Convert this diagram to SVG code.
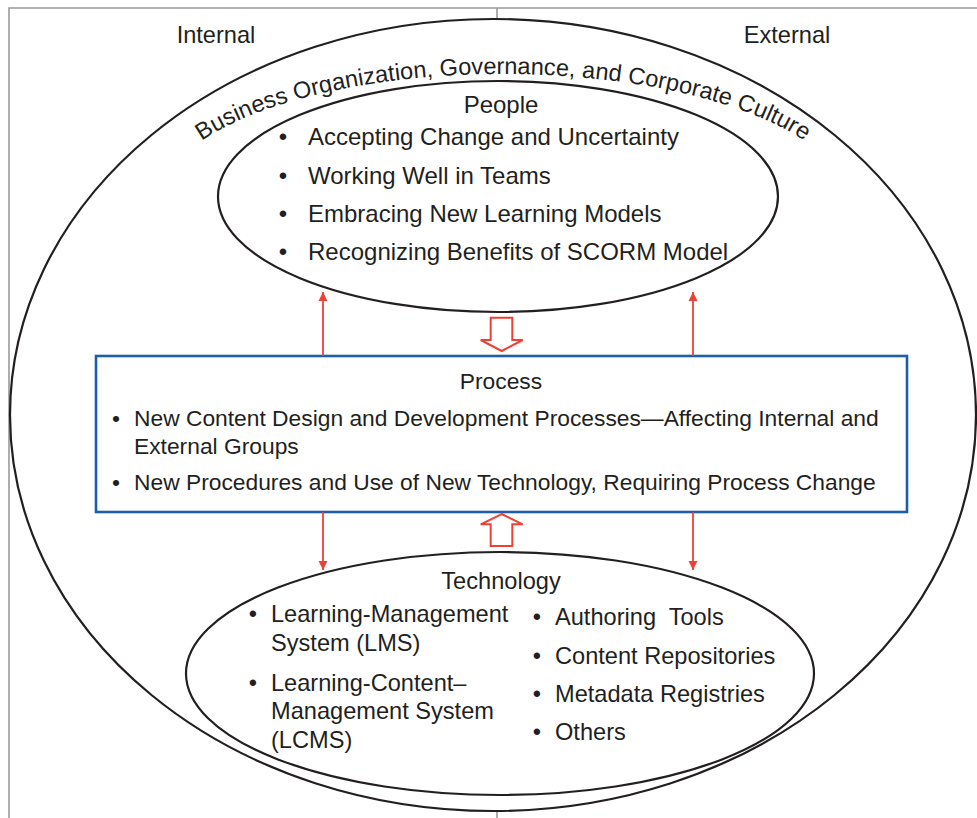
<svg xmlns="http://www.w3.org/2000/svg" width="977" height="818" viewBox="0 0 977 818">
<style>
text{font-family:"Liberation Sans",Arial,Helvetica,sans-serif;fill:#231f20}
.t{font-size:23.6px}
.p{font-size:24px}
.pr{font-size:22.8px}
.m{text-anchor:middle}
.ell{fill:none;stroke:#231f20;stroke-width:2.2}
.frame{stroke:#9a9a9a;stroke-width:1.6;fill:none}
.thin{stroke:#ee4035;stroke-width:1.8;fill:none}
.block{fill:#fff;stroke:#ee4035;stroke-width:2}
</style>
<defs>
<marker id="ah" viewBox="0 0 10 10" refX="10" refY="5" markerWidth="9" markerHeight="11" markerUnits="userSpaceOnUse" orient="auto"><path d="M0,0 L10,5 L0,10 z" fill="#ee4035"/></marker>
<path id="arcText" d="M160,202 A343,128 0 0 1 846,202"/>
</defs>
<rect width="977" height="818" fill="#fff"/>
<g id="frame">
<path class="frame" d="M9,818 V8 H977"/>
<path class="frame" d="M497,8 V20 M497,810 V818"/>
<text class="t m" x="216" y="43">Internal</text>
<text class="t m" x="787" y="43">External</text>
</g>
<g id="culture">
<ellipse class="ell" cx="493" cy="415" rx="483" ry="396"/>
<text class="t"><textPath href="#arcText" startOffset="50%" text-anchor="middle">Business Organization, Governance, and Corporate Culture</textPath></text>
</g>
<g id="people">
<ellipse class="ell" cx="498" cy="196.5" rx="280" ry="115.5"/>
<text class="p m" x="501" y="113">People</text>
<text class="p m" x="283" y="145">•</text><text class="p" x="308" y="145">Accepting Change and Uncertainty</text>
<text class="p m" x="283" y="184">•</text><text class="p" x="308" y="184">Working Well in Teams</text>
<text class="p m" x="283" y="222">•</text><text class="p" x="308" y="222">Embracing New Learning Models</text>
<text class="p m" x="283" y="260">•</text><text class="p" x="308" y="260">Recognizing Benefits of SCORM Model</text>
</g>
<g id="process">
<rect x="96" y="356" width="811" height="156" fill="#fff" stroke="#1d5eab" stroke-width="2.6"/>
<text class="pr m" x="501" y="389">Process</text>
<text class="pr m" x="116" y="426">•</text><text class="pr" x="134" y="426">New Content Design and Development Processes—Affecting Internal and</text>
<text class="pr" x="134" y="454">External Groups</text>
<text class="pr m" x="116" y="490">•</text><text class="pr" x="134" y="490">New Procedures and Use of New Technology, Requiring Process Change</text>
</g>
<g id="technology">
<ellipse class="ell" cx="500" cy="673.5" rx="314" ry="121.5"/>
<text class="t m" x="501" y="589">Technology</text>
<text class="t m" x="253" y="622">•</text><text class="t" x="271" y="622">Learning-Management</text>
<text class="t" x="271" y="651">System (LMS)</text>
<text class="t m" x="253" y="691">•</text><text class="t" x="271" y="691">Learning-Content–</text>
<text class="t" x="271" y="719">Management System</text>
<text class="t" x="271" y="748">(LCMS)</text>
<text class="t m" x="537" y="625">•</text><text class="t" x="555" y="625" xml:space="preserve">Authoring  Tools</text>
<text class="t m" x="537" y="664">•</text><text class="t" x="555" y="664">Content Repositories</text>
<text class="t m" x="537" y="702">•</text><text class="t" x="555" y="702">Metadata Registries</text>
<text class="t m" x="537" y="740">•</text><text class="t" x="555" y="740">Others</text>
</g>
<g id="connectors">
<line class="thin" x1="323" y1="356" x2="323" y2="292" marker-end="url(#ah)"/>
<line class="thin" x1="693" y1="356" x2="693" y2="292" marker-end="url(#ah)"/>
<line class="thin" x1="323" y1="512" x2="323" y2="570" marker-end="url(#ah)"/>
<line class="thin" x1="693" y1="512" x2="693" y2="570" marker-end="url(#ah)"/>
<polygon class="block" points="490.7,317.7 512.3,317.7 512.3,340 522.7,340 501.7,351 480.7,340 490.7,340"/>
<polygon class="block" points="501.7,514 522.7,524.3 512.3,524.3 512.3,546 490.7,546 490.7,524.3 480.7,524.3"/>
</g>
</svg>
